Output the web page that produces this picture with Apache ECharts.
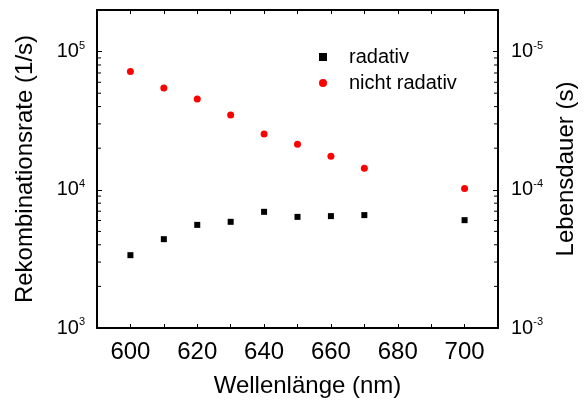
<!DOCTYPE html>
<html>
<head>
<meta charset="utf-8">
<style>
html,body{margin:0;padding:0;background:#fff;}
#chart{width:586px;height:403px;}
</style>
<script src="https://cdn.jsdelivr.net/npm/echarts@6/dist/echarts.min.js"></script>
</head>
<body>
<div id="chart"></div>
<script>
const wavelengths = [600, 610, 620, 630, 640, 650, 660, 670, 700];
const radativ = [3365, 4393, 5575, 5865, 6930, 6370, 6450, 6560, 6030];
const nichtRadativ = [71900, 54600, 45400, 34800, 25300, 21400, 17500, 14300, 10200];
const xTickLabels = [600, 620, 640, 660, 680, 700];
const seriesNames = ['radativ', 'nicht radativ'];
const xName = 'Wellenlänge (nm)';
const yNameLeft = 'Rekombinationsrate (1/s)';
const yNameRight = 'Lebensdauer (s)';

const FONT = 'Liberation Sans, Arial, sans-serif';
const X_MIN = 590, X_MAX = 710, X_STEP = 10, Y_MIN = 1000, Y_MAX = 200000;
const TC = '#000';

const minorTickVals = [];
for (let d = 3; d <= 5; d++) {
  for (let m = 2; m <= 9; m++) {
    const v = m * Math.pow(10, d);
    if (v < Y_MAX) minorTickVals.push(v);
  }
}

function powLabel(v) {
  const e = Math.log10(v);
  const r = Math.round(e);
  if (Math.abs(e - r) > 1e-6) return '';
  return '{b|10}{s|' + r + '}';
}
function xLabel(v) {
  return xTickLabels.indexOf(Math.round(v)) >= 0 ? String(Math.round(v)) : '';
}
const rich = {
  b: {fontSize: 20, fontFamily: FONT, color: '#000'},
  s: {fontSize: 11, fontFamily: FONT, color: '#000', padding: [0, 0, 12, 0]}
};

const chart = echarts.init(document.getElementById('chart'), null, {renderer: 'canvas'});
chart.setOption({
  animation: false,
  backgroundColor: '#fff',
  grid: {left: 97, right: 84, top: 10, bottom: 75, containLabel: false},
  legend: {
    orient: 'vertical',
    left: 314, top: 42,
    itemWidth: 8, itemHeight: 8, itemGap: 6,
    data: seriesNames,
    textStyle: {fontSize: 20, fontFamily: FONT, color: '#000', padding: [0, 0, 0, 17]}
  },
  xAxis: [{
    type: 'value', min: X_MIN, max: X_MAX, interval: X_STEP, position: 'bottom',
    name: xName, nameLocation: 'middle', nameGap: 46,
    nameTextStyle: {fontSize: 24, fontFamily: FONT, color: '#000', padding: [0, 0, 0, 20]},
    axisLine: {show: true, lineStyle: {color: '#000', width: 2}},
    axisTick: {show: true, inside: true, length: 4, lineStyle: {color: TC, width: 1}},
    axisLabel: {show: true, interval: 0, formatter: xLabel, margin: 12, fontSize: 24, fontFamily: FONT, color: '#000'},
    splitLine: {show: false}
  }, {
    type: 'value', min: X_MIN, max: X_MAX, interval: X_STEP, position: 'top',
    axisLine: {show: true, lineStyle: {color: '#000', width: 2}},
    axisTick: {show: true, inside: true, length: 4, lineStyle: {color: TC, width: 1}},
    axisLabel: {show: false},
    splitLine: {show: false}
  }],
  yAxis: [{
    type: 'log', logBase: 10, min: Y_MIN, max: Y_MAX, position: 'left',
    name: yNameLeft, nameLocation: 'middle', nameGap: 60, nameRotate: 90,
    nameTextStyle: {fontSize: 24, fontFamily: FONT, color: '#000'},
    axisLine: {show: true, lineStyle: {color: '#000', width: 2}},
    axisTick: {show: true, inside: true, length: 5, lineStyle: {color: TC, width: 1}},
    axisLabel: {margin: 12, formatter: powLabel, rich: rich},
    minorTick: {show: false},
    splitLine: {show: false}
  }, {
    type: 'log', logBase: 10, min: 1 / Y_MAX, max: 1 / Y_MIN, inverse: true, position: 'right',
    name: yNameRight, nameLocation: 'middle', nameGap: 56, nameRotate: 90,
    nameTextStyle: {fontSize: 24, fontFamily: FONT, color: '#000'},
    axisLine: {show: true, lineStyle: {color: '#000', width: 2}},
    axisTick: {show: true, inside: true, length: 5, lineStyle: {color: TC, width: 1}},
    axisLabel: {margin: 13, formatter: powLabel, rich: rich},
    minorTick: {show: false},
    splitLine: {show: false}
  }],
  series: [{
    name: seriesNames[0], type: 'scatter', xAxisIndex: 0, yAxisIndex: 0,
    symbol: 'rect', symbolSize: 6,
    itemStyle: {color: '#000', opacity: 1},
    data: wavelengths.map((w, i) => [w, radativ[i]])
  }, {
    name: seriesNames[1], type: 'scatter', xAxisIndex: 0, yAxisIndex: 0,
    symbol: 'circle', symbolSize: 7,
    itemStyle: {color: '#ff0000', opacity: 1},
    data: wavelengths.map((w, i) => [w, nichtRadativ[i]])
  }, {
    type: 'custom', xAxisIndex: 0, yAxisIndex: 0, silent: true,
    clip: false, z: 10,
    data: minorTickVals.map(v => [X_MIN, v]),
    renderItem: function (params, api) {
      const v = api.value(1);
      const pl = api.coord([X_MIN, v]);
      const pr = api.coord([X_MAX, v]);
      const st = {stroke: TC, lineWidth: 1, fill: null};
      return {
        type: 'group',
        children: [
          {type: 'line', shape: {x1: pl[0], y1: pl[1], x2: pl[0] + 4, y2: pl[1]}, style: st},
          {type: 'line', shape: {x1: pr[0], y1: pr[1], x2: pr[0] - 4, y2: pr[1]}, style: st}
        ]
      };
    }
  }]
});
</script>
</body>
</html>
